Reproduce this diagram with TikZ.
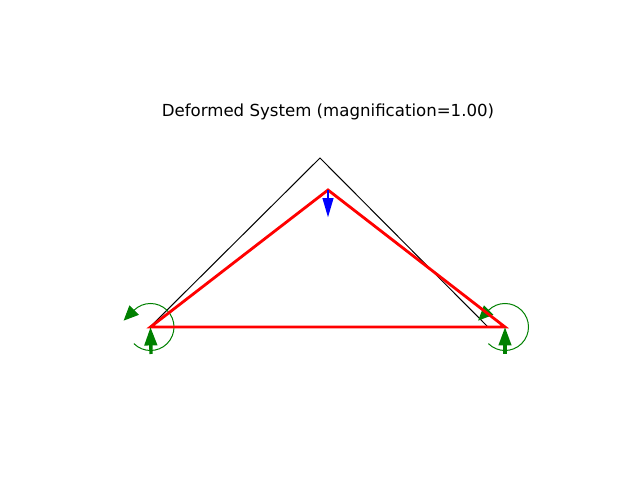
\documentclass[tikz,border=0pt]{standalone}
\usepackage{fontspec}
\setmainfont{DejaVu Sans}
\usetikzlibrary{arrows.meta}
\tikzset{
  undeformed/.style = {black, line width=0.57pt, line join=miter},
  deformed/.style   = {red, line width=1.6pt, line join=miter},
  reaction/.style   = {green!50!black, line width=1.9pt, -{Stealth[length=10.5pt, width=7pt, inset=0pt]}},
  moment/.style     = {green!50!black, line width=0.57pt, -{Stealth[length=8.5pt, width=7.5pt, inset=0pt]}},
  load/.style       = {blue, line width=1.3pt, -{Stealth[length=11pt, width=6pt, inset=0pt]}}
}
\begin{document}
\begin{tikzpicture}[x=0.02cm, y=0.02cm]
  \useasboundingbox (0,0) rectangle (640,480);
  \coordinate (orgleft)  at (150,153);
  \coordinate (orgtop)   at (320,322);
  \coordinate (orgright) at (488,153);
  \coordinate (defleft)  at (150.5,153);
  \coordinate (deftop)   at (328,290);
  \coordinate (defright) at (505,153);
  \coordinate (loadend)  at (328,262.5);
  \coordinate (reacleft)  at (151,126);
  \coordinate (reacright) at (505,126);
  \node[font=\fontsize{9.45pt}{11pt}\selectfont] (title) at (328,368.5) {Deformed System (magnification=1.00)};
  \draw[undeformed] (orgleft) -- (orgtop) -- (orgright) -- cycle;
  \draw[moment] ([shift={(225:23.5)}]defleft) arc (225:495:23.5) -- ++(225:14.5);
  \draw[moment] ([shift={(225:23.5)}]defright) arc (225:495:23.5) -- ++(225:14.5);
  \draw[deformed] (defleft) -- (deftop) -- (defright) -- cycle;
  \draw[reaction] (reacleft) -- (defleft);
  \draw[reaction] (reacright) -- (defright);
  \draw[load] (deftop) -- (loadend);
\end{tikzpicture}
\end{document}
